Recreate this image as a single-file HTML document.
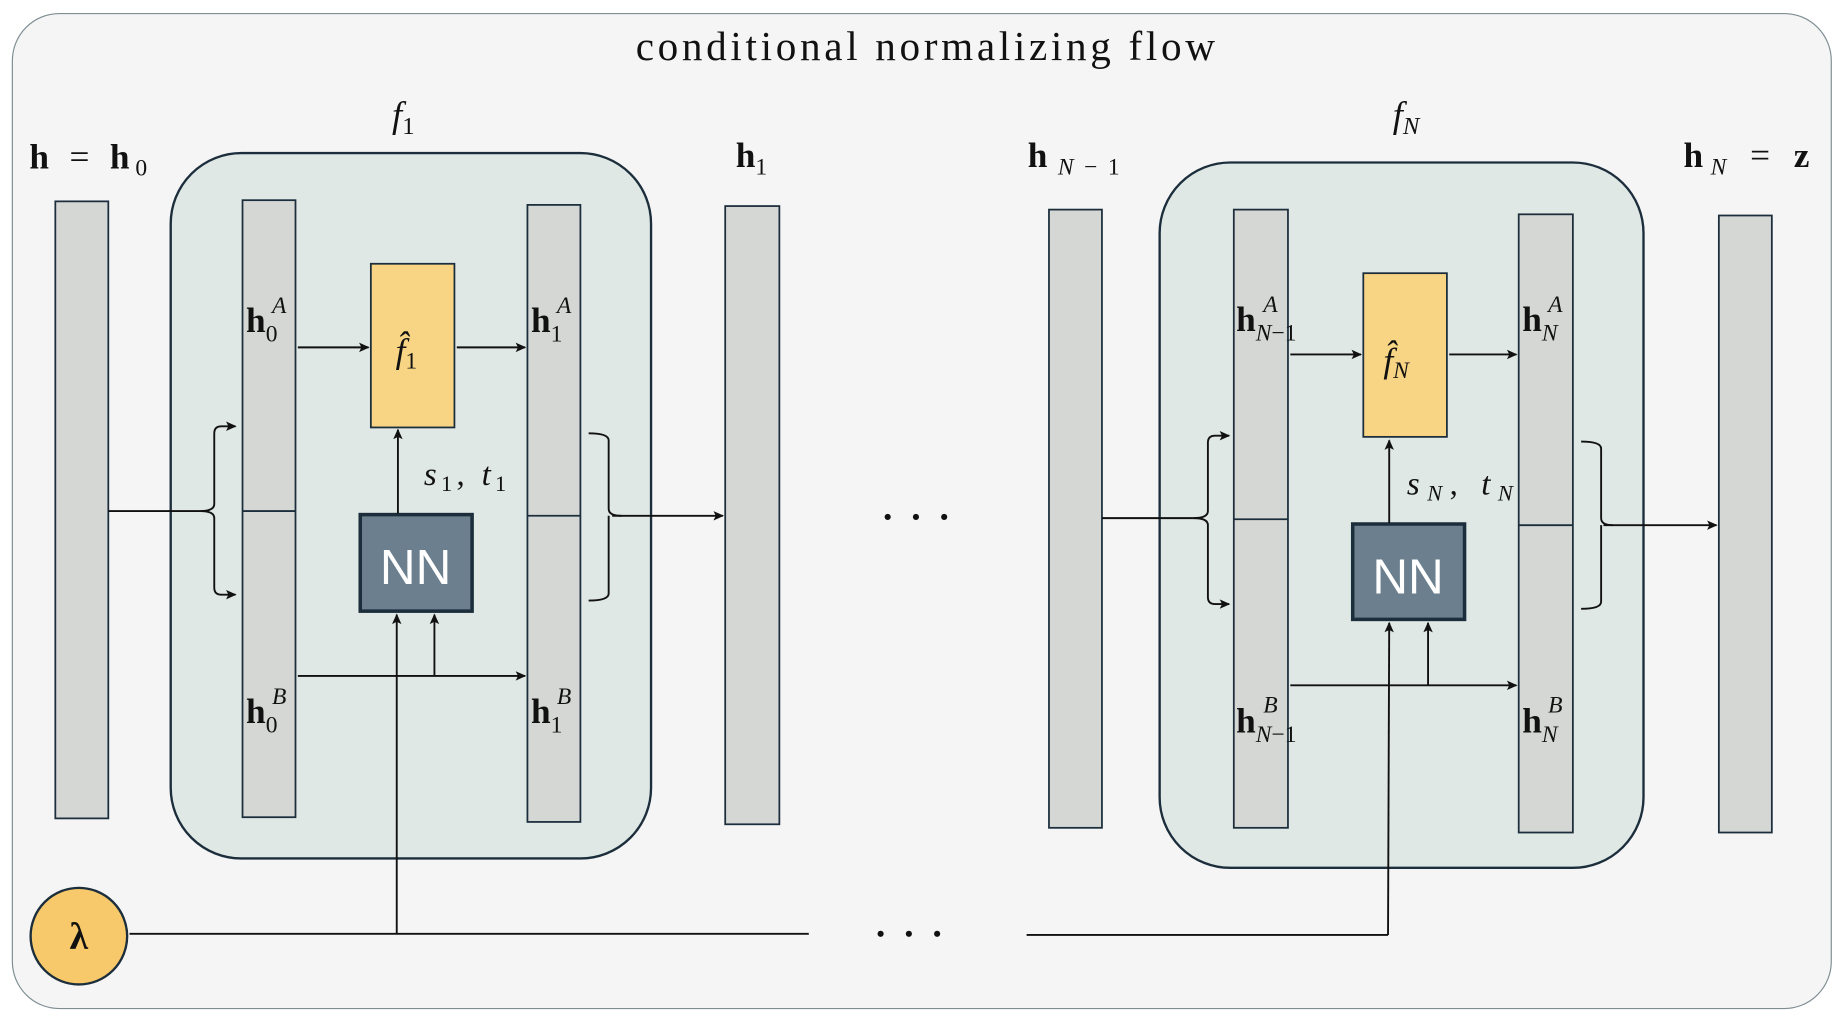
<!DOCTYPE html>
<html><head><meta charset="utf-8">
<style>
html,body{margin:0;padding:0;background:#fff;}
svg{display:block;}
text{font-family:"Liberation Serif",serif;fill:#111;}
.b{font-weight:bold;}
.i{font-style:italic;}
</style></head>
<body>
<svg width="1846" height="1028" viewBox="0 0 1568 873" preserveAspectRatio="none" xmlns="http://www.w3.org/2000/svg">
<defs>
<marker id="a" markerWidth="10" markerHeight="10" refX="8" refY="4" orient="auto" markerUnits="userSpaceOnUse">
<path d="M0,0 L9,4 L0,8 L2,4 z" fill="#111"/>
</marker>
</defs>
<rect x="0" y="0" width="1568" height="873" fill="#fff"/>
<rect x="10.5" y="11.5" width="1545" height="845" rx="40" fill="#f5f5f5" stroke="#7f8e93" stroke-width="1"/>
<text x="540" y="51" font-size="35" textLength="492" lengthAdjust="spacing">conditional normalizing flow</text>

<text x="333" y="108" font-size="31" class="i">f<tspan font-size="21" dy="6" font-style="normal">1</tspan></text>
<text x="1183" y="108" font-size="31" class="i">f<tspan font-size="21" dy="6">N</tspan></text>

<text x="25" y="143" font-size="30" textLength="100" lengthAdjust="spacing"><tspan class="b">h</tspan> = <tspan class="b">h</tspan><tspan font-size="20" dy="6">0</tspan></text>
<text x="625" y="142" font-size="30"><tspan class="b">h</tspan><tspan font-size="20" dy="6">1</tspan></text>
<text x="873" y="142" font-size="30" textLength="78" lengthAdjust="spacing"><tspan class="b">h</tspan><tspan font-size="20" dy="6" class="i">N</tspan><tspan font-size="20">−1</tspan></text>
<text x="1430" y="142" font-size="30" textLength="107" lengthAdjust="spacing"><tspan class="b">h</tspan><tspan font-size="20" dy="6" class="i">N</tspan><tspan dy="-6"> = </tspan><tspan class="b">z</tspan></text>

<!-- blocks -->
<rect x="145" y="130" width="408" height="599" rx="60" fill="#dfe8e5" stroke="#1c2e3c" stroke-width="2"/>
<rect x="985" y="138" width="411" height="599" rx="60" fill="#dfe8e5" stroke="#1c2e3c" stroke-width="2"/>

<!-- bars -->
<g fill="#d5d7d5" stroke="#1c2e3c" stroke-width="1.5">
<rect x="47" y="171" width="45" height="524"/>
<rect x="206" y="170" width="45" height="524"/>
<rect x="448" y="174" width="45" height="524"/>
<rect x="616" y="175" width="46" height="525"/>
<rect x="891" y="178" width="45" height="525"/>
<rect x="1048" y="178" width="46" height="525"/>
<rect x="1290" y="182" width="46" height="525"/>
<rect x="1460" y="183" width="45" height="524"/>
</g>
<g stroke="#1c2e3c" stroke-width="1.5">
<line x1="206" y1="434" x2="251" y2="434"/>
<line x1="448" y1="438" x2="493" y2="438"/>
<line x1="1048" y1="441" x2="1094" y2="441"/>
<line x1="1290" y1="446" x2="1336" y2="446"/>
</g>

<!-- f hat boxes -->
<rect x="315" y="224" width="71" height="139" fill="#f8d584" stroke="#1c2e3c" stroke-width="1.5"/>
<rect x="1158" y="232" width="71" height="139" fill="#f8d584" stroke="#1c2e3c" stroke-width="1.5"/>
<text x="336" y="308" font-size="30" class="i">f̂<tspan font-size="20" dy="5" font-style="normal">1</tspan></text>
<text x="1175" y="316" font-size="30" class="i">f̂<tspan font-size="20" dy="5">N</tspan></text>

<!-- NN boxes -->
<rect x="306" y="437" width="95" height="82" fill="#6b7f8e" stroke="#1c2e3c" stroke-width="3"/>
<rect x="1149" y="445" width="95" height="81" fill="#6b7f8e" stroke="#1c2e3c" stroke-width="3"/>
<text x="353" y="496" font-size="42" text-anchor="middle" style="font-family:'Liberation Sans',sans-serif;fill:#fff">NN</text>
<text x="1196" y="504" font-size="42" text-anchor="middle" style="font-family:'Liberation Sans',sans-serif;fill:#fff">NN</text>

<!-- labels in bars -->
<g font-size="30">
<text x="209" y="282"><tspan class="b">h</tspan><tspan font-size="20" dy="8">0</tspan></text>
<text x="231" y="266" font-size="20" class="i">A</text>
<text x="209" y="614"><tspan class="b">h</tspan><tspan font-size="20" dy="8">0</tspan></text>
<text x="231" y="598" font-size="20" class="i">B</text>
<text x="451" y="282"><tspan class="b">h</tspan><tspan font-size="20" dy="8">1</tspan></text>
<text x="473" y="266" font-size="20" class="i">A</text>
<text x="451" y="614"><tspan class="b">h</tspan><tspan font-size="20" dy="8">1</tspan></text>
<text x="473" y="598" font-size="20" class="i">B</text>
<text x="1050" y="281"><tspan class="b">h</tspan><tspan font-size="20" dy="8" class="i">N</tspan><tspan font-size="20">−1</tspan></text>
<text x="1073" y="265" font-size="20" class="i">A</text>
<text x="1050" y="622"><tspan class="b">h</tspan><tspan font-size="20" dy="8" class="i">N</tspan><tspan font-size="20">−1</tspan></text>
<text x="1073" y="605" font-size="20" class="i">B</text>
<text x="1293" y="281"><tspan class="b">h</tspan><tspan font-size="20" dy="8" class="i">N</tspan></text>
<text x="1315" y="265" font-size="20" class="i">A</text>
<text x="1293" y="622"><tspan class="b">h</tspan><tspan font-size="20" dy="8" class="i">N</tspan></text>
<text x="1315" y="605" font-size="20" class="i">B</text>
</g>
<text x="360" y="412" font-size="28" class="i" textLength="70" lengthAdjust="spacing">s<tspan font-size="19" dy="5" font-style="normal">1</tspan><tspan dy="-5" font-style="normal">, </tspan>t<tspan font-size="19" dy="5" font-style="normal">1</tspan></text>
<text x="1195" y="420" font-size="28" class="i" textLength="90" lengthAdjust="spacing">s<tspan font-size="19" dy="5">N</tspan><tspan dy="-5" font-style="normal">, </tspan>t<tspan font-size="19" dy="5">N</tspan></text>

<!-- connectors -->
<g stroke="#111" stroke-width="1.6" fill="none">
<line x1="253" y1="295" x2="313" y2="295" marker-end="url(#a)"/>
<line x1="388" y1="295" x2="446" y2="295" marker-end="url(#a)"/>
<line x1="253" y1="574" x2="446" y2="574" marker-end="url(#a)"/>
<line x1="369" y1="574" x2="369" y2="522" marker-end="url(#a)"/>
<line x1="337" y1="793" x2="337" y2="522" marker-end="url(#a)"/>
<line x1="338" y1="436" x2="338" y2="365" marker-end="url(#a)"/>
<line x1="110" y1="793" x2="687" y2="793"/>
<line x1="872" y1="794" x2="1179" y2="794"/>
<line x1="1179" y1="794" x2="1180" y2="529" marker-end="url(#a)"/>
<line x1="1213" y1="582" x2="1213" y2="529" marker-end="url(#a)"/>
<line x1="1096" y1="582" x2="1288" y2="582" marker-end="url(#a)"/>
<line x1="1096" y1="301" x2="1156" y2="301" marker-end="url(#a)"/>
<line x1="1231" y1="301" x2="1288" y2="301" marker-end="url(#a)"/>
<line x1="1180" y1="444" x2="1180" y2="374" marker-end="url(#a)"/>

<line x1="92" y1="434" x2="170" y2="434"/>
<path d="M170,434 Q182,434 182,428 L182,368 Q182,362 188,362 L200,362" marker-end="url(#a)"/>
<path d="M170,434 Q182,434 182,440 L182,499 Q182,505 188,505 L200,505" marker-end="url(#a)"/>
<line x1="936" y1="440" x2="1014" y2="440"/>
<path d="M1014,440 Q1026,440 1026,434 L1026,376 Q1026,370 1032,370 L1044,370" marker-end="url(#a)"/>
<path d="M1014,440 Q1026,440 1026,446 L1026,507 Q1026,513 1032,513 L1044,513" marker-end="url(#a)"/>
<path d="M500,368 Q517,368 517,374 L517,432 Q517,438 528,438 M517,438 L517,504 Q517,510 500,510"/>
<line x1="520" y1="438" x2="614" y2="438" marker-end="url(#a)"/>
<path d="M1343,375 Q1360,375 1360,381 L1360,440 Q1360,446 1370,446 M1360,446 L1360,511 Q1360,517 1343,517"/>
<line x1="1362" y1="446" x2="1458" y2="446" marker-end="url(#a)"/>
</g>

<g fill="#111">
<circle cx="754" cy="439" r="2.6"/><circle cx="778" cy="439" r="2.6"/><circle cx="802" cy="439" r="2.6"/>
<circle cx="748" cy="793" r="2.6"/><circle cx="772" cy="793" r="2.6"/><circle cx="796" cy="793" r="2.6"/>
</g>

<circle cx="67" cy="795" r="41" fill="#f7c96a" stroke="#1c2e3c" stroke-width="2"/>
<text x="67" y="806" font-size="32" text-anchor="middle" class="b">λ</text>
</svg>
</body></html>
